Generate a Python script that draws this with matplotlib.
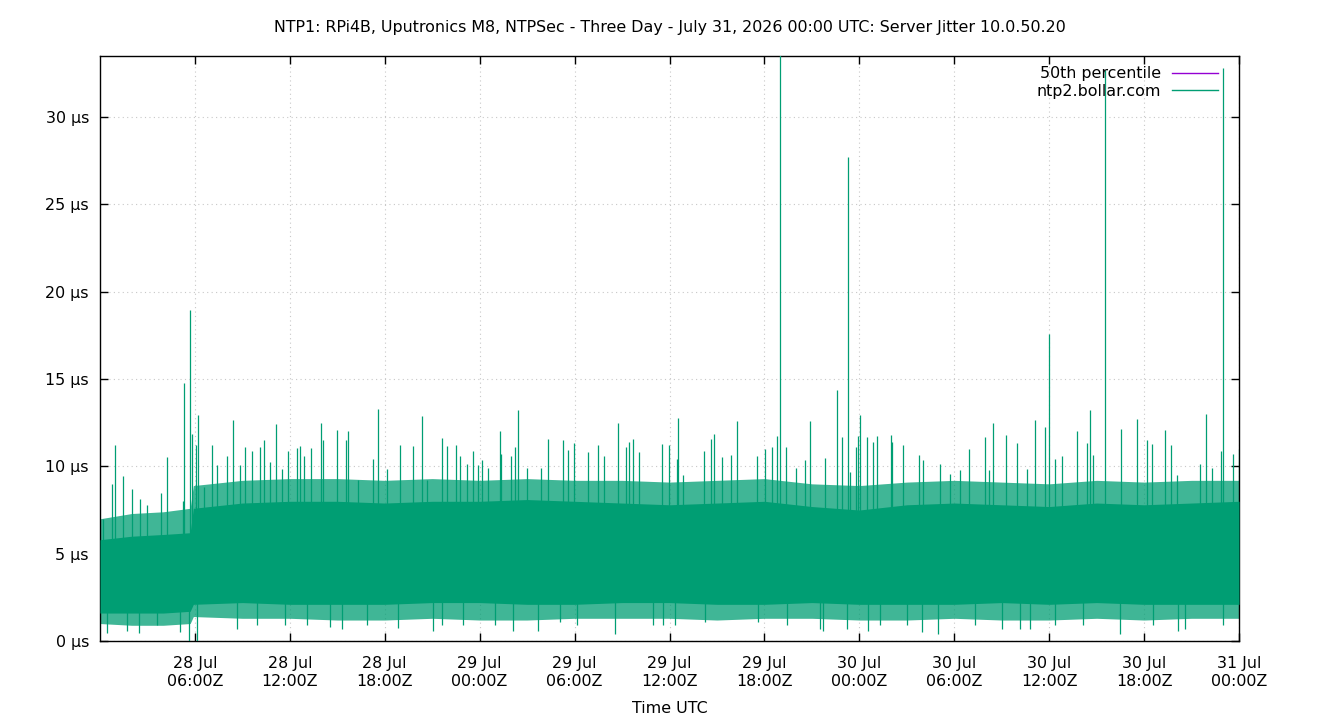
import matplotlib
matplotlib.use("Agg")
import matplotlib.pyplot as plt
from matplotlib.lines import Line2D
import numpy as np

# hours since 28 Jul 2026 00:00 UTC
env_hours = [0, 2, 4, 5.7, 5.9, 9, 12, 15, 18, 21, 24, 27, 30, 33, 36,
             39, 42, 45, 48, 51, 54, 57, 60, 63, 66, 69, 72]
# solid band of the jitter trace (us)
core_hi = [5.8, 6.0, 6.1, 6.2, 7.6, 7.9, 8.0, 8.0, 7.9, 8.0, 8.0, 8.1, 8.0, 7.9,
           7.8, 7.9, 8.0, 7.7, 7.5, 7.8, 7.9, 7.8, 7.7, 7.9, 7.8, 7.9, 8.0]
core_lo = [1.6, 1.6, 1.6, 1.7, 2.1, 2.2, 2.1, 2.1, 2.1, 2.2, 2.2, 2.1, 2.1, 2.2,
           2.2, 2.1, 2.1, 2.2, 2.1, 2.1, 2.1, 2.2, 2.1, 2.2, 2.1, 2.1, 2.1]
# looser fringe around it
fringe_hi = [7.0, 7.3, 7.4, 7.6, 8.9, 9.2, 9.3, 9.3, 9.2, 9.3, 9.2, 9.3, 9.2, 9.2,
             9.1, 9.2, 9.3, 9.0, 8.9, 9.1, 9.2, 9.1, 9.0, 9.2, 9.1, 9.2, 9.2]
fringe_lo = [1.0, 0.9, 0.9, 1.0, 1.4, 1.3, 1.3, 1.2, 1.2, 1.3, 1.2, 1.2, 1.3, 1.3,
             1.3, 1.2, 1.3, 1.3, 1.2, 1.2, 1.3, 1.2, 1.2, 1.3, 1.2, 1.3, 1.3]

# individual upward spikes
spike_hours = [0.21, 0.93, 0.76, 1.47, 2.04, 2.53, 2.99, 3.83, 4.21, 5.23, 5.31, 5.69,
               5.82, 6.07, 6.19, 6.57, 7.06, 7.42, 8.0, 8.43, 8.85, 9.17, 9.59, 10.11,
               10.39, 10.75, 11.1, 11.48, 11.9,
               12.43, 12.64, 12.9, 13.36, 13.95, 14.07, 14.96, 15.55, 15.7, 16.33, 17.28,
               17.57, 18.12, 18.96, 19.76, 20.35, 20.65, 21.64, 21.96, 22.5, 22.76, 23.18,
               23.6, 23.91,
               24.13, 24.55, 25.28, 25.37, 25.96, 26.21, 26.42, 26.97, 27.85, 28.34, 29.25,
               29.58, 29.96, 30.87, 31.48, 31.86, 32.76, 33.23, 33.44, 33.67, 34.09, 35.5,
               35.97,
               36.49, 36.56, 36.87, 38.2, 38.6, 38.81, 39.3, 39.86, 40.24, 41.51, 42.06,
               42.46, 42.81, 42.98, 43.36, 43.99, 44.54, 44.88, 45.83, 46.57, 46.88, 47.3,
               47.41, 47.79, 47.93,
               48.04, 48.46, 48.84, 49.14, 49.98, 50.04, 50.74, 51.75, 52.0, 53.1, 53.73,
               54.36, 54.95, 55.96, 56.22, 56.47, 57.27, 57.99, 58.58, 59.12, 59.76, 60.0,
               60.34, 60.81, 61.74, 62.41, 62.58, 62.75, 63.53, 64.52, 65.53, 66.16, 66.5,
               67.32, 67.72, 68.06, 69.53, 69.91, 70.27, 70.84, 71.0, 71.6, 71.98]
spike_vals = [7.0, 11.24, 9.0, 9.43, 8.72, 8.15, 7.8, 8.5, 10.53, 8.0, 14.8, 18.95,
              11.87, 11.2, 12.92, 8.8, 11.2, 10.1, 10.6, 12.63, 10.1, 11.1, 10.9, 11.1,
              11.5, 10.25, 12.44, 9.87, 10.9,
              11.07, 11.16, 10.6, 11.05, 12.48, 11.5, 12.1, 11.5, 12.0, 9.2, 10.4,
              13.3, 9.87, 11.2, 11.16, 12.86, 9.2, 11.6, 11.16, 11.2, 10.6, 10.15,
              10.86, 10.06,
              10.34, 9.9, 12.0, 10.73, 10.6, 11.1, 13.2, 9.9, 9.9, 11.58, 11.53,
              10.95, 11.34, 10.82, 11.2, 10.57, 12.5, 11.1, 11.4, 11.55, 10.82, 11.28,
              11.2,
              10.44, 12.77, 9.5, 10.9, 11.58, 11.87, 10.53, 10.63, 12.6, 10.6, 10.97,
              11.1, 11.74, 36.0, 11.1, 9.9, 10.34, 12.58, 10.48, 14.4, 11.68, 27.7,
              9.7, 11.1, 11.74,
              12.92, 11.68, 11.39, 11.74, 11.8, 11.39, 11.2, 10.67, 10.34, 10.15, 9.58,
              9.77, 11.0, 11.68, 9.77, 12.5, 11.8, 11.35, 9.83, 12.67, 12.23, 17.6,
              10.44, 10.6, 12.0, 11.35, 13.22, 10.67, 32.7, 12.16, 12.73, 11.5, 11.3,
              12.1, 11.2, 9.5, 10.15, 13.0, 9.9, 10.9, 32.8, 10.73, 11.0]

# individual downward dips
dip_hours = [0.46, 1.69, 2.49, 3.58, 5.06, 5.65, 6.15, 8.64, 9.9, 11.69,
             13.06, 14.54, 15.28, 16.86, 18.86, 21.07, 21.6, 22.97,
             24.97, 26.13, 27.71, 29.08, 30.17, 32.55, 34.98, 35.61,
             36.35, 38.24, 41.61, 43.4, 45.51, 45.72, 47.2,
             48.57, 49.3, 50.99, 51.94, 52.99, 55.31, 56.99, 58.15, 58.79,
             60.37, 62.16, 64.47, 66.58, 68.16, 68.58, 71.0]
dip_vals = [0.46, 0.6, 0.48, 0.9, 0.52, 0.0, 0.0, 0.7, 0.9, 0.9,
            0.9, 0.8, 0.7, 0.9, 0.74, 0.6, 0.9, 0.9,
            0.9, 0.6, 0.6, 1.09, 0.9, 0.42, 0.9, 0.9,
            0.9, 1.1, 1.1, 0.9, 0.7, 0.6, 0.7,
            0.6, 0.9, 0.9, 0.52, 0.42, 0.9, 0.7, 0.7, 0.7,
            0.9, 0.9, 0.42, 0.9, 0.6, 0.7, 0.9]

median_val = 3.8

tick_hours = [6, 12, 18, 24, 30, 36, 42, 48, 54, 60, 66, 72]
tick_labels = ["28 Jul\n06:00Z", "28 Jul\n12:00Z", "28 Jul\n18:00Z",
               "29 Jul\n00:00Z", "29 Jul\n06:00Z", "29 Jul\n12:00Z", "29 Jul\n18:00Z",
               "30 Jul\n00:00Z", "30 Jul\n06:00Z", "30 Jul\n12:00Z", "30 Jul\n18:00Z",
               "31 Jul\n00:00Z"]
ytick_vals = [0, 5, 10, 15, 20, 25, 30]
ytick_labels = ["%d µs" % v for v in ytick_vals]

green = "#009e73"
purple = "#9400d3"
fs = 11.4

fig = plt.figure(figsize=(13.4, 7.2), dpi=100)
ax = fig.add_axes([100 / 1340, 1 - 641 / 720, 1139 / 1340, 585 / 720])

ax.axhline(median_val, color=purple, lw=0.8, zorder=1)
ax.fill_between(env_hours, fringe_lo, fringe_hi, color=green, alpha=0.75, lw=0, zorder=2)
ax.fill_between(env_hours, core_lo, core_hi, color=green, lw=0, zorder=3)
ax.vlines(spike_hours, 5, spike_vals, color=green, lw=0.9, zorder=3)
ax.vlines(dip_hours, dip_vals, 3, color=green, lw=0.9, zorder=3)

ax.set_xlim(0, 72)
ax.set_ylim(0, 33.5)
ax.set_xticks(tick_hours)
ax.set_xticklabels(tick_labels, fontsize=fs)
ax.set_yticks(ytick_vals)
ax.set_yticklabels(ytick_labels, fontsize=fs)
ax.tick_params(direction="in", length=6, width=1, top=True, right=True)
ax.tick_params(axis="x", pad=11)
ax.tick_params(axis="y", pad=8)
ax.grid(True, color="#c8c8c8", linestyle=(0, (1, 3)), lw=0.8)
ax.set_axisbelow(True)
for s in ax.spines.values():
    s.set_linewidth(1)

ax.set_xlabel("Time UTC", fontsize=fs, labelpad=9)
ax.set_title("NTP1: RPi4B, Uputronics M8, NTPSec - Three Day - July 31, 2026 00:00 UTC: "
             "Server Jitter 10.0.50.20", fontsize=fs, pad=17)

handles = [Line2D([], [], color=purple, lw=1), Line2D([], [], color=green, lw=1)]
ax.legend(handles, ["50th percentile", "ntp2.bollar.com"], loc="upper right",
          bbox_to_anchor=(1 - 11 / 1139, 1.0),
          frameon=False, markerfirst=False, fontsize=fs, handlelength=2.9,
          borderaxespad=0.25, labelspacing=0.15, handletextpad=0.7)

fig.savefig("out.png", dpi=100)
